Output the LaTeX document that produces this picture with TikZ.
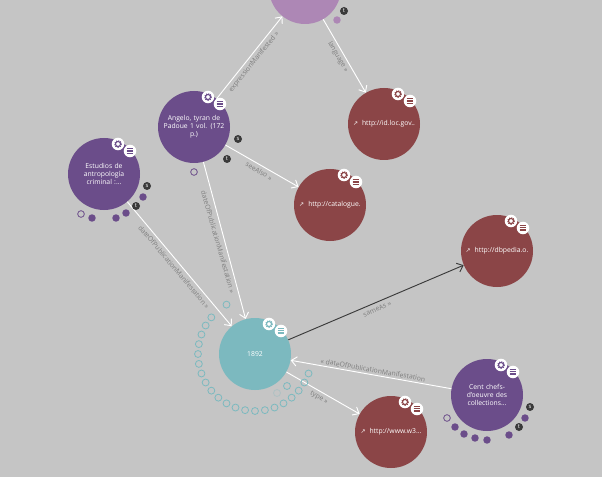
\documentclass[tikz,border=0pt]{standalone}
\usepackage{fontspec}
\setmainfont{Open Sans}
\newfontfamily\symfont{DejaVu Sans}
\usetikzlibrary{calc,arrows.meta}
\definecolor{pagebg}{HTML}{C5C5C5}
\definecolor{workcol}{HTML}{6B4D8A}
\definecolor{expcol}{HTML}{AD87B5}
\definecolor{linkcol}{HTML}{8B4547}
\definecolor{datecol}{HTML}{7CB9BF}
\definecolor{badgecol}{HTML}{3A3A3A}
\definecolor{tagcol}{HTML}{7E7E7E}
\tikzset{
	x=0.75pt, y=-0.75pt,
	entity/.style={circle, fill=#1, text=white, inner sep=0pt, minimum size=54pt, align=center, font=\fontsize{5.1}{6}\selectfont, text width=50pt},
	edgeline/.style={draw=#1, line width=0.7pt, -{Straight Barb[length=4pt,width=7pt]}},
	edgeline/.default=white,
	tag/.style={text=tagcol, inner sep=0pt, font=\fontsize{5.1}{6}\selectfont},
	btn/.style={circle, fill=white, inner sep=0pt, minimum size=9.4pt},
	badge/.style={circle, fill=badgecol, text=white, inner sep=0pt, minimum size=6pt, font=\fontsize{4.4}{4.4}\selectfont},
	dot/.style={circle, fill=#1, inner sep=0pt, minimum size=5.6pt},
	opendot/.style={circle, draw=#1, line width=0.6pt, inner sep=0pt, minimum size=5pt},
	ringdot/.style={circle, draw=datecol, line width=0.6pt, inner sep=0pt, minimum size=5.2pt}
}
\def\nodebtns(#1)#2{
	\node[btn] (#1gear) at ($(#1)+(14,-30)$) {};
	\draw[#2, line width=1pt, dash pattern=on 0.8pt off 0.8pt] (#1gear) circle (3.2);
	\draw[#2, line width=0.8pt] (#1gear) circle (2.5);
	\node[btn] (#1menu) at ($(#1)+(26,-23)$) {};
	\foreach \dy in {-2.4,-0.8,0.8,2.4}
		\draw[#2, line width=0.45pt] ($(#1menu)+(-3.4,\dy)$) -- ($(#1menu)+(3.4,\dy)$);
}
\def\linktext#1{\mbox{{\symfont\fontsize{4.5}{5}\selectfont ↗}\hspace{3pt}#1}}

\begin{document}
\begin{tikzpicture}
	%%%%% START %%%%%
	\useasboundingbox (0,0) rectangle (602,477);
	\fill[pagebg] (0,0) rectangle (602,477);

	\node[entity=expcol] (manifested) at (305,-12) {};
	\node[entity=workcol] (angelo) at (194,127) {Angelo, tyran de\\Padoue 1 vol. (172\\p.)};
	\node[entity=workcol] (estudios) at (104,174) {Estudios de\\antropología\\criminal :...};
	\node[entity=workcol] (cent) at (487,395) {Cent chefs-\\d'oeuvre des\\collections...};
	\node[entity=datecol] (year) at (255,354) {1892};
	\node[entity=linkcol] (idloc) at (384,124) {\linktext{http://id.loc.gov..}};
	\node[entity=linkcol] (catalogue) at (330,205) {\linktext{http://catalogue.}};
	\node[entity=linkcol] (dbpedia) at (497,251) {\linktext{http://dbpedia.o.}};
	\node[entity=linkcol] (wthree) at (391,432) {\linktext{http://www.w3...}};

	\draw[edgeline] (angelo) -- (manifested);
	\draw[edgeline] (manifested) -- (idloc);
	\draw[edgeline] (angelo) -- (catalogue);
	\draw[edgeline] (angelo) -- (year);
	\draw[edgeline] (estudios) -- (year);
	\draw[edgeline] (cent) -- (year);
	\draw[edgeline] (year) -- (wthree);
	\draw[edgeline=badgecol] (year) -- (dbpedia);

	\node[tag, rotate=51] (tagexpr) at (254,62) {expressionManifested »};
	\node[tag, rotate=-60] (taglang) at (338,57) {language »};
	\node[tag, rotate=-31] (tagsee) at (259,171) {seeAlso »};
	\node[tag, rotate=-74] (tagdatea) at (218,242) {dateOfPublicationManifestation »};
	\node[tag, rotate=-50] (tagdateb) at (174,267) {dateOfPublicationManifestation »};
	\node[tag, rotate=-10] (tagdatec) at (373,370) {« dateOfPublicationManifestation};
	\node[tag, rotate=24] (tagsame) at (377,309) {sameAs »};
	\node[tag, rotate=-28] (tagtype) at (319,398) {type »};

	\nodebtns(angelo){workcol}
	\nodebtns(estudios){workcol}
	\nodebtns(cent){workcol}
	\nodebtns(year){datecol}
	\nodebtns(idloc){linkcol}
	\nodebtns(catalogue){linkcol}
	\nodebtns(dbpedia){linkcol}
	\nodebtns(wthree){linkcol}

	\node[badge] (topt) at (344,11) {t};
	\node[dot=expcol] (topdot) at (337,20) {};

	\node[badge] (angelos) at (238,139) {s};
	\node[badge] (angelot) at (227,159) {t};
	\node[opendot=workcol] (angeloopen) at (194,172) {};

	\node[badge] (estudioss) at (147,186) {s};
	\node[badge] (estudiost) at (136,206) {t};
	\node[opendot=workcol] (estudiosopen) at (81,214) {};
	\foreach \px/\py [count=\i] in {143/197,126/213,116/218,92/218}
		\node[dot=workcol] (estudiosdot\i) at (\px,\py) {};

	\node[badge] (cents) at (530,407) {s};
	\node[badge] (centt) at (519,427) {t};
	\node[opendot=workcol] (centopen) at (447,418) {};
	\foreach \px/\py [count=\i] in {525/418,509/435,487/440,475/438,464/434,455/427}
		\node[dot=workcol] (centdot\i) at (\px,\py) {};

	\foreach \a in {20,30,...,220,240}
		\node[ringdot] (ring\a) at ($(year)+(\a:57)$) {};
	\node[ringdot] (ringin) at (287,386) {};
	\node[ringdot, draw=datecol!30!pagebg] (ringfaint) at (277,393) {};
	%%%%% END %%%%%
\end{tikzpicture}
\end{document}
